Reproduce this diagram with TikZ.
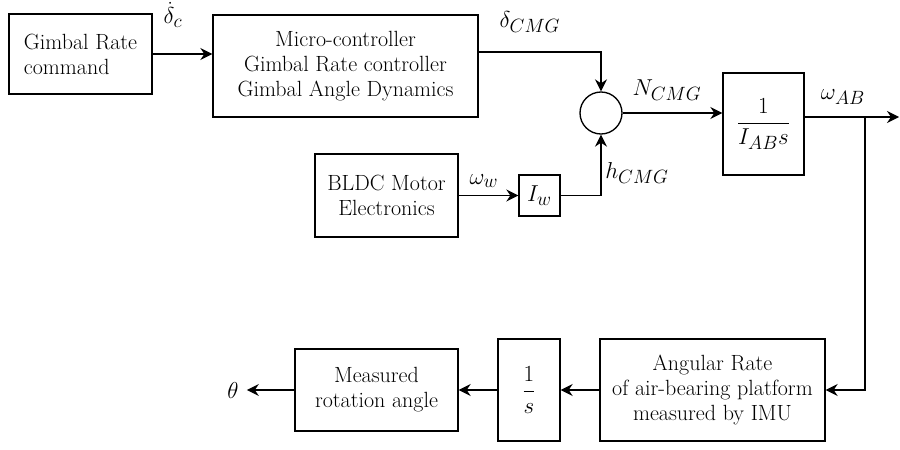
\documentclass[tikz,border=0pt]{standalone}
\usepackage{amsmath}
\usetikzlibrary{arrows.meta}
\newcommand{\fs}{\fontsize{16.5}{18.75}\selectfont}
\newcommand{\fm}{\fontsize{19}{22}\selectfont}
\begin{document}
\begin{tikzpicture}[x=0.75pt,y=-0.75pt,
  blk/.style={draw,line width=1pt,rectangle,inner sep=0pt,font=\fs,align=center},
  arr/.style={-{Stealth[length=9pt,width=9pt,inset=3pt]},line width=1pt},
  lbl/.style={font=\fm,inner sep=0pt}]
\useasboundingbox (0,0) rectangle (900,450);

% blocks
\node[blk,minimum width=107.25pt,minimum height=60pt,align=left] (cmd) at (80.5,54) {Gimbal Rate\\command};
\node[blk,minimum width=198.75pt,minimum height=76.5pt] (mc) at (345.5,66) {Micro-controller\\Gimbal Rate controller\\Gimbal Angle Dynamics};
\node[draw,circle,line width=1pt,minimum size=31.5pt,inner sep=0pt] (sum) at (601,113) {};
\node[blk,minimum width=60.75pt,minimum height=76.5pt,font=\fm] (plant) at (763.5,124) {$\dfrac{1}{I_{AB}s}$};
\node[blk,minimum width=107.25pt,minimum height=62.25pt] (bldc) at (386.5,195.5) {BLDC Motor\\Electronics};
\node[blk,minimum width=30.75pt,minimum height=30.75pt,font=\fm] (iw) at (539.5,195.5) {$I_w$};
\node[blk,minimum width=168.75pt,minimum height=76.5pt] (imu) at (712.5,390) {Angular Rate\\of air-bearing platform\\measured by IMU};
\node[blk,minimum width=46.5pt,minimum height=76.5pt,font=\fm] (int) at (529,390) {$\dfrac{1}{s}$};
\node[blk,minimum width=122.25pt,minimum height=61.5pt] (meas) at (376.5,390) {Measured\\rotation angle};
\node[lbl] (theta) at (233,390) {$\theta$};

% coordinates
\coordinate (br) at (865,117);
\coordinate (out) at (899,117);

% labels
\node[lbl] (ldc) at (173,15) {$\dot{\delta}_c$};
\node[lbl] (ldcmg) at (530,22) {$\delta_{CMG}$};
\node[lbl] (lncmg) at (667,90) {$N_{CMG}$};
\node[lbl] (lwab) at (843,97) {$\omega_{AB}$};
\node[lbl] (lww) at (484,181) {$\omega_w$};
\node[lbl] (lhcmg) at (637,173) {$h_{CMG}$};

% connectors
\draw[arr] (cmd.east) -- (cmd.east -| mc.west);
\draw[arr] ([yshift=10.5pt]mc.east) -| (sum.north);
\draw[arr] (bldc.east) -- (iw.west);
\draw[arr] (iw.east) -| (sum.south);
\draw[arr] (sum.east) -- (sum.east -| plant.west);
\draw[arr] ([yshift=5.25pt]plant.east) -- (out);
\draw[arr] (br) |- (imu.east);
\draw[arr] (imu.west) -- (int.east);
\draw[arr] (int.west) -- (meas.east);
\draw[arr] (meas.west) -- ([xshift=6pt]theta.east);
\end{tikzpicture}
\end{document}
